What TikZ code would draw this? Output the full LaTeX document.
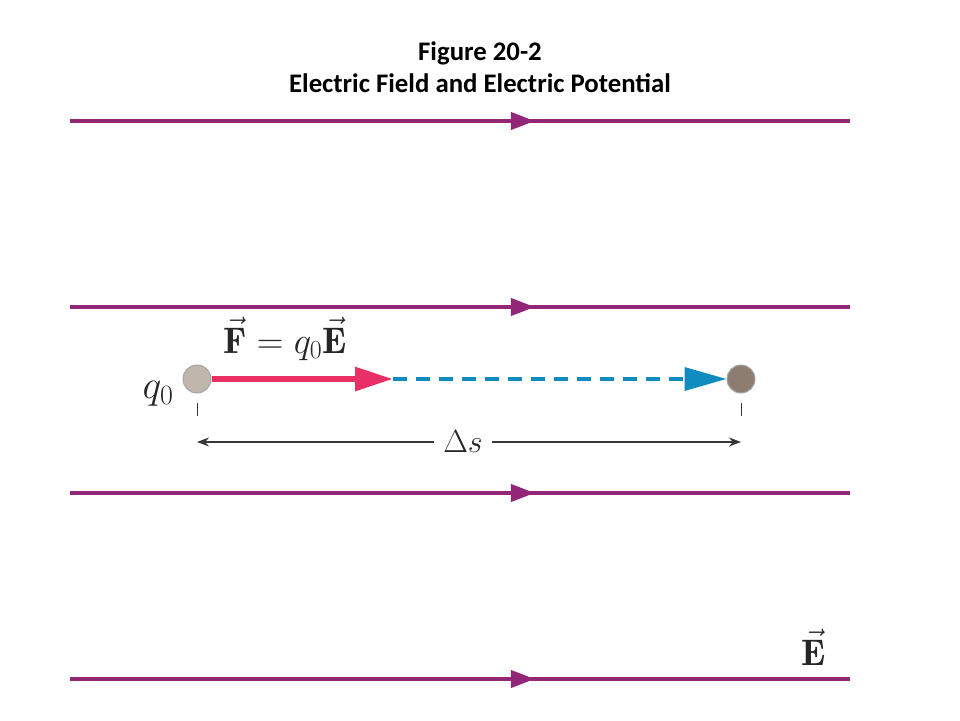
\RequirePackage{fix-cm}
\documentclass[tikz,border=0pt]{standalone}
\usepackage{fontspec}
\newfontfamily\titlefont{Carlito}
\usetikzlibrary{arrows.meta,decorations.markings}
\definecolor{fieldpurple}{RGB}{148,38,120}
\definecolor{forcered}{RGB}{232,48,100}
\definecolor{pathblue}{RGB}{16,140,190}
\definecolor{chargelight}{RGB}{192,182,172}
\definecolor{chargedark}{RGB}{140,125,112}
\definecolor{dimgrey}{RGB}{55,55,55}
\newcommand{\fvec}[1]{\vec{\mathbf{#1}}}

\begin{document}
\begin{tikzpicture}
[
x=1pt,y=-1pt,
fieldline/.style={line width=4pt,draw=fieldpurple,postaction={decorate},
decoration={markings,mark=at position 0.596 with
{\arrow{Triangle[length=24pt,width=17pt]}}}},
charge/.style={circle,draw=black!35,line width=1pt,inner sep=0pt,
minimum size=28pt},
mathlab/.style={anchor=base,inner sep=1pt,text=black!85},
tick/.style={line width=1pt,dimgrey}
]
\useasboundingbox (0,0) rectangle (960,720);
\node[font=\titlefont\bfseries\fontsize{26.8}{32}\selectfont,align=center]
(title) at (480,67) {Figure 20-2\\Electric Field and Electric Potential};

% field lines
\foreach \y/\n in {121/a,307/b,493/c,679/d}{
\coordinate (\n0) at (70,\y);
\coordinate (\n1) at (850,\y);
\draw[fieldline] (\n0)--(\n1);
}
\node[mathlab,font=\fontsize{37}{40}\selectfont] (E) at (814,665) {$\fvec{E}$};

% charges
\node[charge,fill=chargelight] (q0) at (197,379){ };
\node[charge,fill=chargedark] (q1) at (741,379){ };
\node[mathlab,font=\fontsize{40}{44}\selectfont] (q0lab) at (158,398) {$q_0$};
\node[mathlab,font=\fontsize{37}{40}\selectfont] (Flab) at (285,353)
{$\fvec{F}=q_0\fvec{E}$};

\coordinate (fend) at (393,379);
\draw[line width=3.5pt,pathblue,dash pattern=on 14pt off 9pt,
-{Triangle[length=42pt,width=23pt]}] (fend)--(q1.west);
\draw[line width=6pt,forcered,-{Triangle[length=38pt,width=23pt]}]
(q0.east)--(fend);

% displacement
\draw[tick] (q0) ++(0,24) -- ++(0,13);
\draw[tick] (q1) ++(0,24) -- ++(0,13);
\coordinate (s0) at (197,442);
\coordinate (s1) at (741,442);
\draw[line width=1.2pt,dimgrey,{Stealth[length=12pt,width=9pt]}-{Stealth[length=12pt,width=9pt]}]
(s0)--(s1);
\node[mathlab,font=\fontsize{32}{36}\selectfont,fill=white,inner xsep=9pt]
(ds) at (463,452) {$\Delta s$};
\end{tikzpicture}
\end{document}
